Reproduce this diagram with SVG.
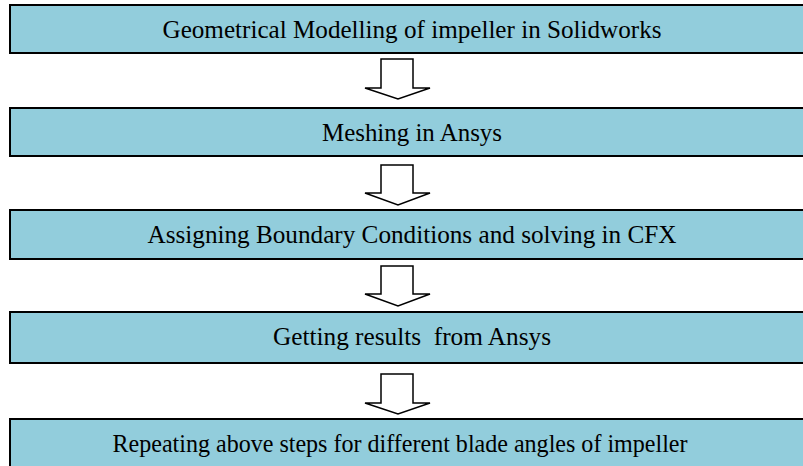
<svg xmlns="http://www.w3.org/2000/svg" width="803" height="466" viewBox="0 0 803 466">
<style>
.box{fill:#92CDDC;stroke:#000;stroke-width:2}
.t{fill:#000;text-anchor:middle}
.arr{fill:#fff;stroke:#000;stroke-width:1.5;stroke-linejoin:miter}
</style>
<rect width="803" height="466" fill="#fff"/>
<g font-family="Liberation Serif, Times New Roman, serif" font-size="25">
<g id="n1"><rect class="box" x="10" y="5" width="810" height="48"/><text class="t" x="412" y="38" textLength="499" lengthAdjust="spacingAndGlyphs">Geometrical Modelling of impeller in Solidworks</text></g>
<g id="n2"><rect class="box" x="10" y="108" width="810" height="48"/><text class="t" x="412" y="141" textLength="180" lengthAdjust="spacingAndGlyphs">Meshing in Ansys</text></g>
<g id="n3"><rect class="box" x="10" y="210" width="810" height="49"/><text class="t" x="412" y="243" textLength="529" lengthAdjust="spacingAndGlyphs">Assigning Boundary Conditions and solving in CFX</text></g>
<g id="n4"><rect class="box" x="10" y="312" width="810" height="51"/><text class="t" x="412" y="345" textLength="278" lengthAdjust="spacingAndGlyphs" xml:space="preserve">Getting results  from Ansys</text></g>
<g id="n5"><rect class="box" x="10" y="419" width="810" height="60"/><text class="t" x="400" y="452" textLength="575" lengthAdjust="spacingAndGlyphs">Repeating above steps for different blade angles of impeller</text></g>
</g>
<g id="connectors">
<polygon class="arr" points="381,59 413,59 413,88 430,88 398,99 365,88 381,88"/>
<polygon class="arr" points="381,165 413,165 413,193 430,193 398,205 365,193 381,193"/>
<polygon class="arr" points="381,266 413,266 413,294 430,294 398,306 365,294 381,294"/>
<polygon class="arr" points="381,374 413,374 413,403 430,403 398,414 365,403 381,403"/>
</g>
</svg>
